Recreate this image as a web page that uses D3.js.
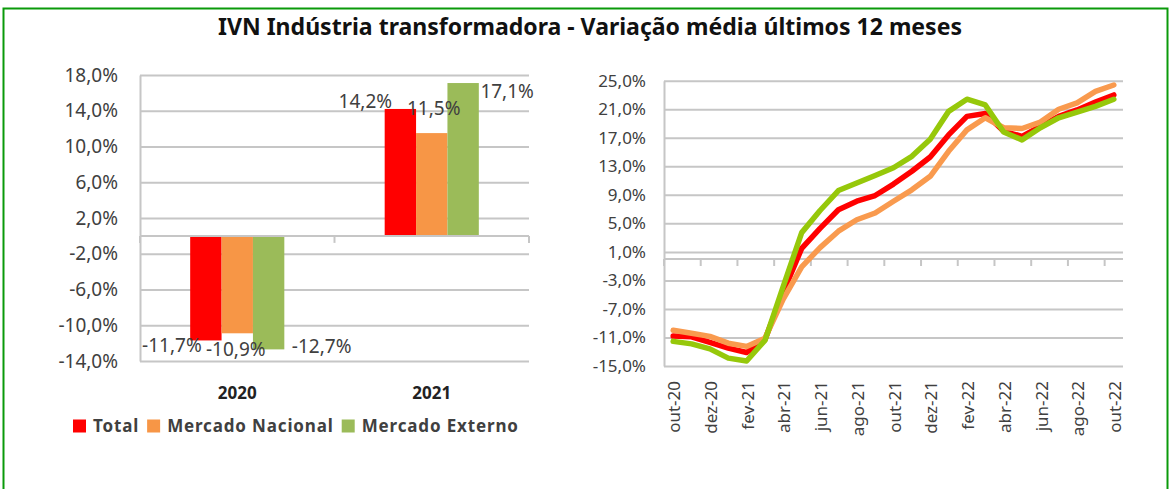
<!DOCTYPE html>
<html>
<head>
<meta charset="utf-8">
<script src="https://cdn.jsdelivr.net/npm/d3@7"></script>
<style>
  body { margin: 0; background: #fff; }
  text { font-family: "Noto Sans", sans-serif; }
</style>
</head>
<body>
<div id="container"></div>
<script>
/**
 * CONSTANTS AND GLOBALS
 * */
const width = 1173,
  height = 489;

// bar chart (annual)
const years = ["2020", "2021"];
const seriesNames = ["Total", "Mercado Nacional", "Mercado Externo"];
const totalYear = [-11.7, 14.2];
const nacionalYear = [-10.9, 11.5];
const externoYear = [-12.7, 17.1];
const barTicks = [18, 14, 10, 6, 2, -2, -6, -10, -14];

// line chart (monthly, average of last 12 months)
const months = ["out-20", "nov-20", "dez-20", "jan-21", "fev-21", "mar-21", "abr-21", "mai-21",
  "jun-21", "jul-21", "ago-21", "set-21", "out-21", "nov-21", "dez-21", "jan-22", "fev-22",
  "mar-22", "abr-22", "mai-22", "jun-22", "jul-22", "ago-22", "set-22", "out-22"];
const totalMonth = [-10.8, -10.9, -11.7, -12.5, -13.1, -11.3, -4.6, 1.5, 4.3, 6.9, 8.1, 8.9,
  10.5, 12.3, 14.3, 17.4, 20.0, 20.4, 17.9, 17.2, 18.6, 20.0, 20.9, 22.0, 23.0];
const nacionalMonth = [-10.0, -10.4, -10.85, -11.8, -12.25, -11.1, -5.6, -1.1, 1.6, 3.9, 5.5, 6.45,
  8.1, 9.7, 11.6, 15.1, 18.1, 19.8, 18.4, 18.3, 19.2, 21.0, 21.9, 23.5, 24.4];
const externoMonth = [-11.55, -11.9, -12.6, -13.9, -14.3, -11.4, -3.8, 3.7, 6.8, 9.6, 10.65, 11.7,
  12.8, 14.4, 16.8, 20.7, 22.4, 21.6, 17.8, 16.7, 18.4, 19.8, 20.6, 21.4, 22.4];
const lineTicks = [25, 21, 17, 13, 9, 5, 1, -3, -7, -11, -15];

const barColors = ["#ff0000", "#f79646", "#9bbb59"];
const lineColors = ["#ff0000", "#f99a4e", "#96c80a"];
const gridColor = "#c6c6c6";
const textColor = "#404040";

// the data labels on the bars were dragged around by hand in the original
const labelNudge = [
  [[-34, 5], [-35, -8]],
  [[-1.5, 15.5], [2, -25]],
  [[53, -3.5], [44, 8]],
];

const pt = d3.formatLocale({ decimal: ",", thousands: ".", grouping: [3], currency: ["", "€"], minus: "-" });
const pct = v => pt.format(".1f")(v) + "%";

const svg = d3.select("#container")
  .append("svg")
  .attr("width", width)
  .attr("height", height);

svg.append("rect").attr("width", width).attr("height", height).attr("fill", "#fff");

// green frame
svg.append("rect")
  .attr("x", 3.5).attr("y", 8.5)
  .attr("width", 1164).attr("height", 500)
  .attr("fill", "none")
  .attr("stroke", "#0a9a0a")
  .attr("stroke-width", 2);

svg.append("text")
  .attr("x", 590).attr("y", 35)
  .attr("text-anchor", "middle")
  .attr("font-size", 23)
  .attr("font-weight", "bold")
  .attr("textLength", 744)
  .attr("lengthAdjust", "spacingAndGlyphs")
  .attr("fill", "#111")
  .text("IVN Indústria transformadora - Variação média últimos 12 meses");

/**
 * LEFT: BAR CHART
 * */
const bar = { left: 140, right: 529, top: 75, bottom: 361 };
const yBar = d3.scaleLinear().domain([-14, 18]).range([bar.bottom, bar.top]);
const x0 = d3.scaleBand().domain(years).range([bar.left, bar.right]);
const x1 = d3.scaleBand().domain(seriesNames)
  .range([x0.bandwidth() * 0.258, x0.bandwidth() * 0.742]);

const gBar = svg.append("g");

gBar.append("g")
  .attr("transform", `translate(${bar.left},0)`)
  .call(d3.axisLeft(yBar).tickValues(barTicks).tickSize(-(bar.right - bar.left))
    .tickSizeOuter(0).tickPadding(22).tickFormat(pct))
  .call(g => g.select(".domain").attr("stroke", gridColor).attr("stroke-width", 2))
  .call(g => g.selectAll(".tick line").attr("stroke", gridColor).attr("stroke-width", 2))
  .call(g => g.selectAll(".tick text").attr("font-size", 19).attr("fill", textColor)
    .attr("font-family", "Noto Sans"));

const barRows = [totalYear, nacionalYear, externoYear].map((vals, si) =>
  years.map((yr, yi) => ({ series: seriesNames[si], si, yi, year: yr, value: vals[yi] })));

gBar.selectAll("g.series")
  .data(barRows)
  .join("g")
  .attr("class", "series")
  .attr("fill", (d, i) => barColors[i])
  .selectAll("rect")
  .data(d => d)
  .join("rect")
  .attr("x", d => x0(d.year) + x1(d.series))
  .attr("width", x1.bandwidth())
  .attr("y", d => Math.min(yBar(d.value), yBar(0)))
  .attr("height", d => Math.abs(yBar(d.value) - yBar(0)));

// category axis through zero, ticks on the band edges
const edges = years.map(y => x0(y)).concat([bar.right]);
gBar.append("line")
  .attr("x1", bar.left).attr("x2", bar.right)
  .attr("y1", yBar(0)).attr("y2", yBar(0))
  .attr("stroke", gridColor).attr("stroke-width", 2);
gBar.selectAll("line.edge")
  .data(edges)
  .join("line")
  .attr("class", "edge")
  .attr("x1", d => d).attr("x2", d => d)
  .attr("y1", yBar(0)).attr("y2", yBar(0) + 7)
  .attr("stroke", gridColor).attr("stroke-width", 2);

gBar.selectAll("text.val")
  .data(barRows.flat())
  .join("text")
  .attr("class", "val")
  .attr("x", d => x0(d.year) + x1(d.series) + x1.bandwidth() / 2 + labelNudge[d.si][d.yi][0])
  .attr("y", d => yBar(d.value) + labelNudge[d.si][d.yi][1])
  .attr("dy", "0.36em")
  .attr("text-anchor", "middle")
  .attr("font-size", 19)
  .attr("fill", textColor)
  .text(d => pct(d.value));

gBar.selectAll("text.cat")
  .data(years)
  .join("text")
  .attr("class", "cat")
  .attr("x", d => x0(d) + x0.bandwidth() / 2)
  .attr("y", 399)
  .attr("text-anchor", "middle")
  .attr("font-size", 17)
  .attr("font-weight", "bold")
  .attr("fill", "#222")
  .text(d => d);

// legend
const legend = svg.append("g").attr("transform", "translate(73,426)");
let lx = 0;
seriesNames.forEach((name, i) => {
  legend.append("rect")
    .attr("x", lx).attr("y", -6.5)
    .attr("width", 13).attr("height", 13)
    .attr("fill", barColors[i]);
  const t = legend.append("text")
    .attr("x", lx + 20).attr("y", 0)
    .attr("dy", "0.36em")
    .attr("font-size", 17)
    .attr("font-weight", "bold")
    .attr("letter-spacing", 0.85)
    .attr("fill", textColor)
    .text(name);
  lx += 20 + t.node().getComputedTextLength() + 8;
});

/**
 * RIGHT: LINE CHART
 * */
const ln = { left: 664, right: 1123, top: 80.7, bottom: 366 };
const yLine = d3.scaleLinear().domain([-15, 25]).range([ln.bottom, ln.top]);
const xLine = d3.scaleBand().domain(months).range([ln.left, ln.right]);
const half = xLine.bandwidth() / 2;

const gLine = svg.append("g");

gLine.append("g")
  .attr("transform", `translate(${ln.left},0)`)
  .call(d3.axisLeft(yLine).tickValues(lineTicks).tickSize(-(ln.right - ln.left))
    .tickSizeOuter(0).tickPadding(18).tickFormat(pct))
  .call(g => g.select(".domain").attr("stroke", gridColor).attr("stroke-width", 2))
  .call(g => g.selectAll(".tick line").attr("stroke", gridColor).attr("stroke-width", 2))
  .call(g => g.selectAll(".tick text").attr("font-size", 17).attr("fill", textColor)
    .attr("font-family", "Noto Sans"));

// category axis at zero, tick every second month
const every2 = months.filter((m, i) => i % 2 === 0);
gLine.append("line")
  .attr("x1", ln.left).attr("x2", ln.right)
  .attr("y1", yLine(0)).attr("y2", yLine(0))
  .attr("stroke", gridColor).attr("stroke-width", 2);
gLine.selectAll("line.mt")
  .data(every2)
  .join("line")
  .attr("class", "mt")
  .attr("x1", d => xLine(d)).attr("x2", d => xLine(d))
  .attr("y1", yLine(0)).attr("y2", yLine(0) + 7)
  .attr("stroke", gridColor).attr("stroke-width", 2);

gLine.selectAll("text.mlab")
  .data(every2)
  .join("text")
  .attr("class", "mlab")
  .attr("transform", d => `translate(${xLine(d) + half + 1},381) rotate(-90)`)
  .attr("dy", "0.36em")
  .attr("text-anchor", "end")
  .attr("font-size", 17)
  .attr("fill", textColor)
  .text(d => d);

const line = d3.line()
  .x((d, i) => xLine(months[i]) + half)
  .y(d => yLine(d));

gLine.selectAll("path.series")
  .data([totalMonth, nacionalMonth, externoMonth])
  .join("path")
  .attr("class", "series")
  .attr("d", line)
  .attr("fill", "none")
  .attr("stroke", (d, i) => lineColors[i])
  .attr("stroke-width", 5.5)
  .attr("stroke-linejoin", "round")
  .attr("stroke-linecap", "round");
</script>
</body>
</html>
